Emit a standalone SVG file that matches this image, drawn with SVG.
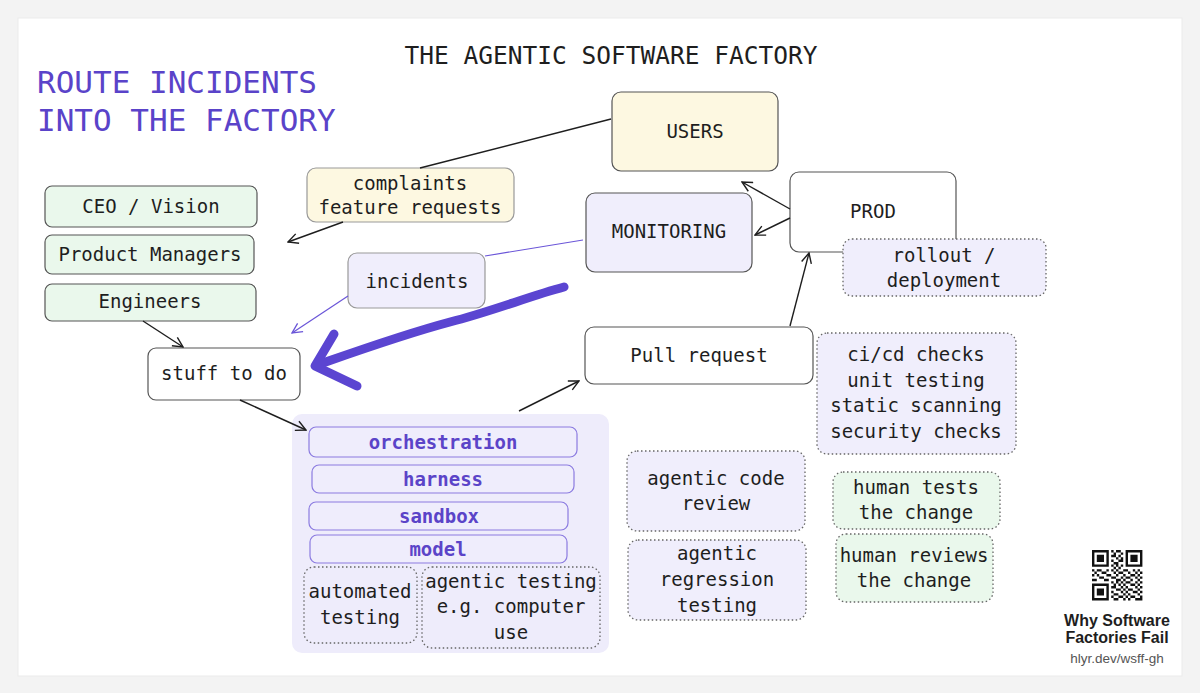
<svg xmlns="http://www.w3.org/2000/svg" width="1200" height="693" viewBox="0 0 1200 693">
<style>
text{font-family:"DejaVu Sans Mono","Liberation Mono",monospace;font-size:19px;fill:#1e1e1e;text-anchor:middle;dominant-baseline:central}
.box{stroke:#555;stroke-width:1.2}
.dot{stroke:#666;stroke-width:1.3;stroke-dasharray:1.5 2.5}
.y{fill:#fdf8e1}.l{fill:#f0eefc}.g{fill:#eaf8ec}.w{fill:#fff}
.stack{fill:#efedfc;stroke:#8b7be0;stroke-width:1.2}
.ptxt{fill:#5b44c8;font-weight:bold}
.con{fill:none;stroke:#1e1e1e;stroke-width:1.4}
.pcon{fill:none;stroke:#6a55d8;stroke-width:1.2}
.cap{font-family:"Liberation Sans",Arial,sans-serif;font-weight:bold;font-size:16px}
</style>
<defs>
<marker id="ah" viewBox="0 0 12 12" refX="11" refY="6" markerWidth="12" markerHeight="12" markerUnits="userSpaceOnUse" orient="auto"><path d="M1,1 L11,6 L1,11" fill="none" stroke="#1e1e1e" stroke-width="1.4"/></marker>
<marker id="ahp" viewBox="0 0 12 12" refX="11" refY="6" markerWidth="12" markerHeight="12" markerUnits="userSpaceOnUse" orient="auto"><path d="M1,1 L11,6 L1,11" fill="none" stroke="#6a55d8" stroke-width="1.3"/></marker>
</defs>
<rect x="0" y="0" width="1200" height="693" fill="#f3f3f3"/>
<rect x="18" y="18" width="1164" height="658" fill="#fff" stroke="#ebebeb"/>

<text x="611" y="55" style="font-size:24.5px">THE AGENTIC SOFTWARE FACTORY</text>
<text x="37" y="82" style="font-size:31px;fill:#5a43c9;text-anchor:start">ROUTE INCIDENTS</text>
<text x="37" y="120" style="font-size:31px;fill:#5a43c9;text-anchor:start">INTO THE FACTORY</text>

<g id="users"><rect class="box y" x="612" y="92" width="166" height="79" rx="9"/><text x="695" y="131">USERS</text></g>
<g id="monitoring"><rect class="box l" x="586" y="193" width="166" height="79" rx="9"/><text x="669" y="231">MONITORING</text></g>
<g id="prod"><rect class="box w" x="790" y="172" width="166" height="80" rx="9"/><text x="873" y="211">PROD</text></g>
<g id="rollout"><rect class="dot l" x="843" y="239" width="203" height="57" rx="9"/><text x="944" y="255">rollout /</text><text x="944" y="280">deployment</text></g>
<g id="complaints"><rect class="box y" x="307" y="168" width="207" height="54" rx="9" style="stroke:#999"/><text x="410" y="183">complaints</text><text x="410" y="207">feature requests</text></g>
<g id="ceo"><rect class="box g" x="45" y="186" width="212" height="41" rx="7"/><text x="151" y="206">CEO / Vision</text></g>
<g id="pm"><rect class="box g" x="45" y="235" width="209" height="39" rx="7"/><text x="150" y="254">Product Managers</text></g>
<g id="engineers"><rect class="box g" x="45" y="284" width="211" height="37" rx="7"/><text x="150" y="301">Engineers</text></g>
<g id="incidents"><rect class="box l" x="348" y="253" width="137" height="55" rx="9" style="stroke:#999"/><text x="417" y="281">incidents</text></g>
<g id="stuff"><rect class="box w" x="148" y="348" width="152" height="52" rx="8"/><text x="224" y="373">stuff to do</text></g>

<g id="factory">
<rect x="292" y="414" width="317" height="239" rx="10" fill="#eeecfb"/>
<g id="orchestration"><rect class="stack" x="309" y="427" width="268" height="30" rx="7"/><text class="ptxt" x="443" y="442">orchestration</text></g>
<g id="harness"><rect class="stack" x="312" y="465" width="262" height="28" rx="7"/><text class="ptxt" x="443" y="479">harness</text></g>
<g id="sandbox"><rect class="stack" x="309" y="502" width="259" height="28" rx="7"/><text class="ptxt" x="439" y="516">sandbox</text></g>
<g id="model"><rect class="stack" x="310" y="535" width="257" height="28" rx="7"/><text class="ptxt" x="438" y="549">model</text></g>
<g id="automated"><rect class="dot" fill="none" x="304" y="567" width="113" height="76" rx="10"/><text x="360" y="591">automated</text><text x="360" y="617">testing</text></g>
<g id="agentictesting"><rect class="dot" fill="none" x="422" y="567" width="178" height="81" rx="10"/><text x="511" y="581">agentic testing</text><text x="511" y="606">e.g. computer</text><text x="511" y="632">use</text></g>
</g>

<g id="pr"><rect class="box w" x="585" y="327" width="228" height="57" rx="9"/><text x="699" y="355">Pull request</text></g>
<g id="cicd"><rect class="dot l" x="817" y="333" width="199" height="121" rx="10"/><text x="916" y="354">ci/cd checks</text><text x="916" y="380">unit testing</text><text x="916" y="405">static scanning</text><text x="916" y="431">security checks</text></g>
<g id="codereview"><rect class="dot l" x="627" y="451" width="178" height="80" rx="10"/><text x="716" y="478">agentic code</text><text x="716" y="503">review</text></g>
<g id="regression"><rect class="dot l" x="628" y="540" width="178" height="80" rx="10"/><text x="717" y="553">agentic</text><text x="717" y="579">regression</text><text x="717" y="605">testing</text></g>
<g id="humantests"><rect class="dot g" x="833" y="472" width="167" height="57" rx="10"/><text x="916" y="487">human tests</text><text x="916" y="512">the change</text></g>
<g id="humanreviews"><rect class="dot g" x="836" y="534" width="157" height="68" rx="10"/><text x="914" y="555">human reviews</text><text x="914" y="580">the change</text></g>

<g id="connectors">
<path class="con" d="M611,119 L420,168 M343,222 L288,242" marker-end="url(#ah)"/>
<path class="pcon" d="M583,240 L485,256"/>
<path class="pcon" d="M348,296 L292,333" marker-end="url(#ahp)"/>
<path class="con" d="M143,321 L183,347" marker-end="url(#ah)"/>
<path class="con" d="M240,400 L306,430" marker-end="url(#ah)"/>
<path class="con" d="M519,411 L579,381" marker-end="url(#ah)"/>
<path class="con" d="M790,326 L809,253" marker-end="url(#ah)"/>
<path class="con" d="M790,209 L742,182" marker-end="url(#ah)"/>
<path class="con" d="M790,218 L755,235" marker-end="url(#ah)"/>
<path d="M564,287 C530,296 490,312 450,322 C405,334 360,350 320,364" fill="none" stroke="#5b45d1" stroke-width="9" stroke-linecap="round"/>
<path d="M334,334 L315,366 L357,386" fill="none" stroke="#5b45d1" stroke-width="9" stroke-linecap="round" stroke-linejoin="round"/>
</g>

<g id="qr" transform="translate(1092,550) scale(2.4)" fill="#111">
<path fill-rule="evenodd" d="M0,0h7v7h-7z M1,1v5h5v-5z M2,2h3v3h-3z M14,0h7v7h-7z M15,1v5h5v-5z M16,2h3v3h-3z M0,14h7v7h-7z M1,15v5h5v-5z M2,16h3v3h-3z"/>
<path d="M8,0h1v1h-1z M10,0h2v1h-2z M9,1h1v1h-1z M12,1h1v1h-1z M8,2h2v1h-2z M11,2h1v1h-1z M10,3h1v1h-1z M12,3h1v1h-1z M8,4h1v1h-1z M11,4h2v1h-2z M9,5h2v1h-2z M8,6h1v1h-1z M10,6h1v1h-1z M12,6h1v1h-1z M9,7h1v1h-1z M11,7h1v1h-1z
M0,8h1v1h-1z M2,8h2v1h-2z M6,8h1v1h-1z M8,8h1v1h-1z M10,8h1v1h-1z M13,8h2v1h-2z M17,8h1v1h-1z M19,8h1v1h-1z
M1,9h1v1h-1z M4,9h2v1h-2z M9,9h1v1h-1z M11,9h2v1h-2z M15,9h1v1h-1z M18,9h1v1h-1z M20,9h1v1h-1z
M0,10h1v1h-1z M2,10h1v1h-1z M6,10h2v1h-2z M10,10h1v1h-1z M13,10h1v1h-1z M16,10h2v1h-2z M19,10h1v1h-1z
M3,11h2v1h-2z M8,11h2v1h-2z M12,11h1v1h-1z M14,11h2v1h-2z M18,11h1v1h-1z M20,11h1v1h-1z
M0,12h2v1h-2z M5,12h2v1h-2z M10,12h2v1h-2z M13,12h1v1h-1z M16,12h1v1h-1z M19,12h1v1h-1z
M8,13h1v1h-1z M10,13h1v1h-1z M12,13h1v1h-1z M14,13h2v1h-2z M18,13h1v1h-1z M20,13h1v1h-1z
M9,14h1v1h-1z M11,14h1v1h-1z M13,14h1v1h-1z M16,14h2v1h-2z M19,14h1v1h-1z
M8,15h2v1h-2z M12,15h1v1h-1z M14,15h1v1h-1z M18,15h1v1h-1z M20,15h1v1h-1z
M10,16h2v1h-2z M13,16h1v1h-1z M15,16h2v1h-2z M19,16h1v1h-1z
M8,17h1v1h-1z M12,17h1v1h-1z M14,17h1v1h-1z M17,17h2v1h-2z M20,17h1v1h-1z
M9,18h2v1h-2z M13,18h1v1h-1z M15,18h1v1h-1z M19,18h1v1h-1z
M8,19h1v1h-1z M11,19h2v1h-2z M14,19h1v1h-1z M16,19h2v1h-2z M20,19h1v1h-1z
M9,20h2v1h-2z M13,20h1v1h-1z M15,20h1v1h-1z M18,20h3v1h-3z"/>
</g>
<g id="qrcaption">
<text class="cap" x="1117" y="620">Why Software</text>
<text class="cap" x="1117" y="637">Factories Fail</text>
<text x="1117" y="658" style="font-family:'Liberation Sans',Arial,sans-serif;font-size:13.5px;fill:#555">hlyr.dev/wsff-gh</text>
</g>
</svg>
